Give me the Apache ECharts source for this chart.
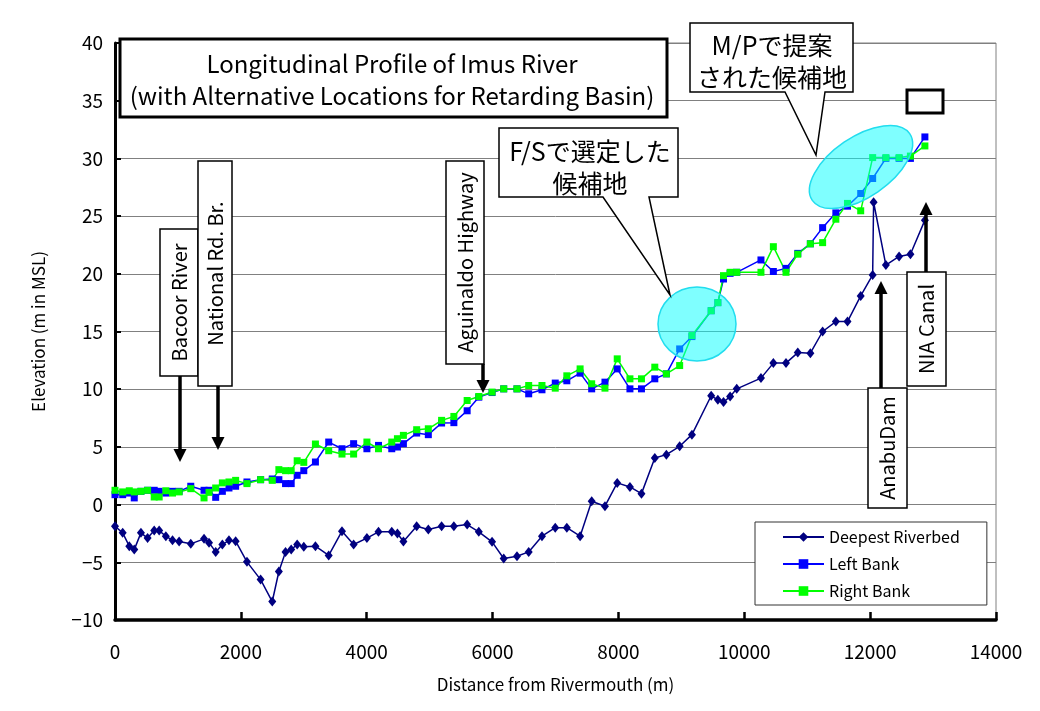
<!DOCTYPE html>
<html><head><meta charset="utf-8">
<script src="https://cdn.jsdelivr.net/npm/echarts@6/dist/echarts.min.js"></script>
<style>html,body{margin:0;padding:0;background:#fff}#c{width:1040px;height:711px}</style>
</head><body><div id="c"></div>
<script>
const distBank = [0,122,227,306,412,518,623,702,808,914,1019,1204,1415,1494,1600,1706,1811,1917,2097,2314,2499,2604,2710,2800,2895,3000,3185,3396,3607,3792,4003,4187,4398,4488,4583,4794,4979,5190,5385,5596,5781,5992,6177,6388,6574,6785,6996,7180,7391,7575,7786,7981,8183,8366,8578,8762,8973,9168,9474,9580,9670,9775,9880,10265,10462,10663,10850,11050,11245,11455,11640,11850,12040,12250,12460,12640,12870];
const leftBank = [0.86,0.86,1.0,0.58,1.15,1.24,1.24,1.15,1.0,1.15,1.15,1.59,1.24,1.24,0.63,1.15,1.44,1.59,1.96,2.16,2.22,2.16,1.82,1.82,2.54,2.94,3.69,5.42,4.84,5.28,4.84,5.13,4.84,4.99,5.28,6.2,6.06,7.07,7.1,8.13,9.31,9.71,10.03,10.03,9.6,9.95,10.53,10.73,11.39,10.03,10.61,11.76,10.03,10.03,10.9,11.33,13.49,14.56,16.8,17.5,19.55,20.04,20.13,21.2,20.2,20.47,21.77,22.6,24.0,25.28,25.86,26.96,28.26,30.0,30.0,30.0,31.86];
const rightBank = [1.24,1.1,1.2,1.1,1.15,1.24,0.66,0.66,1.2,1.0,1.1,1.38,0.58,1.06,1.44,1.88,1.96,2.1,1.82,2.16,2.1,3.03,2.94,2.94,3.8,3.66,5.25,4.67,4.38,4.38,5.42,4.84,5.42,5.71,6.0,6.49,6.57,7.3,7.64,9.02,9.37,9.75,10.03,10.03,10.32,10.32,10.09,11.16,11.76,10.47,10.09,12.63,10.9,10.9,11.91,11.33,12.05,14.65,16.8,17.5,19.84,20.13,20.13,20.13,22.35,20.13,21.7,22.6,22.7,24.73,26.1,25.46,30.07,30.07,30.07,30.2,31.08];
const distDeep = [0,122,227,306,412,518,623,702,808,914,1019,1204,1415,1494,1600,1706,1811,1917,2097,2314,2499,2604,2710,2800,2895,3000,3185,3396,3607,3792,4003,4187,4398,4488,4583,4794,4979,5190,5385,5596,5781,5992,6177,6388,6574,6785,6996,7180,7391,7575,7786,7981,8183,8366,8578,8762,8973,9168,9474,9580,9670,9775,9880,10265,10462,10663,10850,11050,11245,11455,11640,11850,12040,12055,12250,12460,12640,12870];
const deepest = [-1.88,-2.45,-3.6,-3.9,-2.45,-2.9,-2.25,-2.25,-2.74,-3.1,-3.2,-3.4,-2.97,-3.3,-4.1,-3.46,-3.09,-3.17,-4.96,-6.5,-8.4,-5.8,-4.1,-3.9,-3.46,-3.66,-3.6,-4.4,-2.3,-3.46,-2.9,-2.36,-2.36,-2.5,-3.2,-1.88,-2.16,-1.88,-1.88,-1.73,-2.36,-3.23,-4.67,-4.47,-4.1,-2.74,-2.0,-2.0,-2.74,0.29,-0.14,1.88,1.53,0.95,4.04,4.33,5.05,6.06,9.43,9.08,8.88,9.37,10.03,10.96,12.26,12.26,13.17,13.12,15.0,15.86,15.86,18.08,19.9,26.2,20.76,21.5,21.7,24.65];
const seriesNames = ['Deepest Riverbed','Left Bank','Right Bank'];
const yTicks = {min:-10, max:40, interval:5};
const xTicks = {min:0, max:14000, interval:2000};

const FONT = '"Noto Sans CJK JP", "Noto Sans", sans-serif';
const chart = echarts.init(document.getElementById('c'), null, {renderer:'canvas'});
const pairs = (xs, ys) => xs.map((x,i)=>[x, ys[i]]);

function labelBox(x,y,w,h,text,fs){
  return [
    {type:'rect', z:50, shape:{x:x,y:y,width:w,height:h}, style:{fill:'#fff', stroke:'#000', lineWidth:1.5}},
    {type:'text', z:51, x:x+w/2, y:y+h/2, rotation:Math.PI/2, style:{text:text, font:fs+'px '+FONT, fill:'#000', align:'center', verticalAlign:'middle'}}
  ];
}
function arrowDown(x,y1,y2){
  return [
    {type:'line', z:50, shape:{x1:x,y1:y1,x2:x,y2:y2-10}, style:{stroke:'#000', lineWidth:3.5}},
    {type:'polygon', z:50, shape:{points:[[x-6.5,y2-13],[x+6.5,y2-13],[x,y2]]}, style:{fill:'#000'}}
  ];
}
function arrowUp(x,y1,y2){
  return [
    {type:'line', z:50, shape:{x1:x,y1:y1,x2:x,y2:y2+10}, style:{stroke:'#000', lineWidth:3.5}},
    {type:'polygon', z:50, shape:{points:[[x-6.5,y2+13],[x+6.5,y2+13],[x,y2]]}, style:{fill:'#000'}}
  ];
}

const graphics = [].concat(
  [
    {type:'ellipse', z:40, shape:{cx:697, cy:324, rx:39, ry:37}, style:{fill:'rgba(0,255,255,0.5)', stroke:'#22DDEE', lineWidth:1.5}},
    {type:'ellipse', z:40, x:861, y:167, rotation:0.6, shape:{cx:0, cy:0, rx:59, ry:30}, style:{fill:'rgba(0,255,255,0.5)', stroke:'#22DDEE', lineWidth:1.5}},
    {type:'rect', z:50, shape:{x:120,y:39,width:547,height:78}, style:{fill:'#fff', stroke:'#000', lineWidth:3}},
    {type:'text', z:51, x:392, y:64, style:{text:'Longitudinal Profile of Imus River', font:'24px '+FONT, fill:'#000', align:'center', verticalAlign:'middle'}},
    {type:'text', z:51, x:392, y:96, style:{text:'(with Alternative Locations for Retarding Basin)', font:'24px '+FONT, fill:'#000', align:'center', verticalAlign:'middle'}},
    {type:'polygon', z:50, shape:{points:[[499,128],[678,128],[678,197],[649,197],[670,295],[603,197],[499,197]]}, style:{fill:'#fff', stroke:'#000', lineWidth:1.5}},
    {type:'text', z:51, x:590, y:151, style:{text:'F/Sで選定した', font:'25px '+FONT, fill:'#000', align:'center', verticalAlign:'middle'}},
    {type:'text', z:51, x:590, y:183, style:{text:'候補地', font:'25px '+FONT, fill:'#000', align:'center', verticalAlign:'middle'}},
    {type:'polygon', z:50, shape:{points:[[690,23],[853,23],[853,92],[825,92],[816,155],[785,92],[690,92]]}, style:{fill:'#fff', stroke:'#000', lineWidth:1.5}},
    {type:'text', z:51, x:772, y:45, style:{text:'M/Pで提案', font:'25px '+FONT, fill:'#000', align:'center', verticalAlign:'middle'}},
    {type:'text', z:51, x:772, y:77, style:{text:'された候補地', font:'25px '+FONT, fill:'#000', align:'center', verticalAlign:'middle'}},
    {type:'rect', z:50, shape:{x:907,y:90,width:36,height:23}, style:{fill:'#fff', stroke:'#000', lineWidth:3}}
  ],
  labelBox(160,229,38,147,'Bacoor River',20),
  arrowDown(180,376,462),
  labelBox(198,161,34,225,'National Rd. Br.',20),
  arrowDown(218,386,450),
  labelBox(446,161,38,203,'Aguinaldo Highway',20),
  arrowDown(483,364,393),
  labelBox(868,388,39,120,'AnabuDam',20),
  arrowUp(881,388,281),
  labelBox(907,272,39,114,'NIA Canal',20),
  arrowUp(926,272,202)
);

const option = {
  animation:false,
  backgroundColor:'#fff',
  textStyle:{fontFamily:FONT},
  grid:{left:115, right:44, top:43, bottom:91, show:true, borderColor:'#808080', borderWidth:1},
  legend:{
    orient:'vertical', left:755, top:522,
    padding:[7,27,6,27], itemGap:11, itemWidth:41, itemHeight:12,
    backgroundColor:'#fff', borderColor:'#333', borderWidth:1,
    textStyle:{fontSize:16, color:'#000', fontFamily:FONT},
    data:seriesNames
  },
  xAxis:{
    type:'value', min:xTicks.min, max:xTicks.max, interval:xTicks.interval,
    name:'Distance from Rivermouth (m)', nameLocation:'middle', nameGap:56,
    nameTextStyle:{fontSize:17, color:'#000', fontFamily:FONT},
    axisLine:{show:true, onZero:false, lineStyle:{color:'#000', width:3.5}},
    axisTick:{show:true, inside:true, length:8, lineStyle:{color:'#000', width:2.5}},
    axisLabel:{fontSize:19, color:'#000', margin:22, fontFamily:FONT, formatter:v=>String(v)},
    splitLine:{show:false}
  },
  yAxis:{
    type:'value', min:yTicks.min, max:yTicks.max, interval:yTicks.interval,
    name:'Elevation (m in MSL)', nameLocation:'middle', nameGap:68,
    nameTextStyle:{fontSize:17, color:'#000', fontFamily:FONT},
    axisLine:{show:true, onZero:false, lineStyle:{color:'#000', width:3}},
    axisTick:{show:true, inside:true, length:6, lineStyle:{color:'#000', width:2}},
    axisLabel:{fontSize:19, color:'#000', margin:12, fontFamily:FONT, formatter:v=>String(v).replace('-','\u2212')},
    splitLine:{show:true, lineStyle:{color:'#808080', width:1}}
  },
  series:[
    {name:seriesNames[0], type:'line', data:pairs(distDeep, deepest), symbol:'diamond', symbolSize:[8,10],
      itemStyle:{color:'#000080'}, lineStyle:{color:'#000080', width:1.5}},
    {name:seriesNames[1], type:'line', data:pairs(distBank, leftBank), symbol:'rect', symbolSize:7,
      itemStyle:{color:'#0000FF'}, lineStyle:{color:'#0000FF', width:1.5}},
    {name:seriesNames[2], type:'line', data:pairs(distBank, rightBank), symbol:'rect', symbolSize:7,
      itemStyle:{color:'#00FF00'}, lineStyle:{color:'#00FF00', width:1.5}}
  ],
  graphic:{elements:graphics}
};
chart.setOption(option);
</script></body></html>
